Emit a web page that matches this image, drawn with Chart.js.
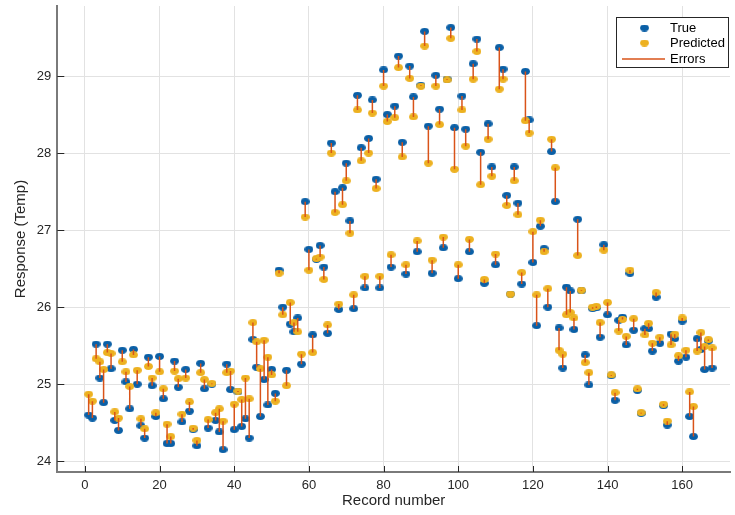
<!DOCTYPE html>
<html>
<head>
<meta charset="utf-8">
<title>True vs Predicted</title>
<script src="https://cdn.jsdelivr.net/npm/chart.js@4.4.0/dist/chart.umd.min.js"></script>
<style>
  html, body { margin: 0; padding: 0; background: #fff; }
  #wrap { width: 735px; height: 515px; }
</style>
</head>
<body>
<div id="wrap"><canvas id="chart" width="735" height="515"></canvas></div>
<script>
// record numbers start at 1, one value per record
const firstRecord = 1;

const trueTemp = [
  24.60, 24.56, 25.52, 25.08, 24.76, 25.52, 25.20, 24.53, 24.40, 25.44,
  25.03, 24.68, 25.45, 25.00, 24.46, 24.30, 25.35, 24.98, 24.58, 25.36,
  24.81, 24.23, 24.23, 25.30, 24.96, 24.51, 25.19, 24.65, 24.41, 24.20,
  25.27, 24.94, 24.43, 25.00, 24.53, 24.38, 24.15, 25.26, 24.93, 24.41,
  24.90, 24.45, 24.55, 24.30, 25.58, 25.22, 24.58, 25.06, 24.73, 25.19,
  24.88, 26.48, 26.00, 25.18, 25.78, 25.68, 25.86, 25.26, 27.37, 26.75,
  25.64, 26.62, 26.80, 26.52, 25.66, 28.13, 27.50, 25.97, 27.55, 27.87,
  27.12, 25.98, 28.75, 28.07, 26.25, 28.19, 28.69, 27.66, 26.25, 29.08,
  28.50, 26.52, 28.61, 29.26, 28.14, 26.43, 29.13, 28.73, 26.72, 28.88,
  29.58, 28.35, 26.44, 29.01, 28.57, 26.77, 28.96, 29.63, 28.33, 26.37,
  28.74, 28.31, 26.72, 29.16, 29.48, 28.01, 26.31, 28.38, 27.82, 26.55,
  29.37, 29.09, 27.45, 26.17, 27.82, 27.35, 26.30, 29.06, 28.43, 26.58,
  25.76, 27.05, 26.76, 26.00, 28.02, 27.37, 25.73, 25.21, 26.26, 26.21,
  25.71, 27.14, 26.21, 25.38, 24.99, 25.98, 25.99, 25.61, 26.81, 25.90,
  25.11, 24.79, 25.83, 25.87, 25.51, 26.44, 25.70, 24.92, 24.62, 25.72,
  25.72, 25.43, 26.13, 25.53, 24.72, 24.47, 25.65, 25.59, 25.30, 25.82,
  25.35, 24.58, 24.32, 25.59, 25.45, 25.19, 25.56, 25.21
];

const predictedTemp = [
  24.87, 24.78, 25.33, 25.29, 25.19, 25.41, 25.40, 24.64, 24.56, 25.29,
  25.16, 24.97, 25.38, 25.18, 24.55, 24.42, 25.23, 25.08, 24.63, 25.16,
  24.94, 24.48, 24.32, 25.17, 25.07, 24.61, 25.08, 24.77, 24.43, 24.27,
  25.15, 25.06, 24.54, 25.01, 24.63, 24.68, 24.52, 25.15, 25.17, 24.74,
  24.91, 24.80, 25.08, 24.81, 25.80, 25.55, 25.20, 25.57, 25.35, 25.12,
  24.78, 26.44, 25.90, 24.98, 26.06, 25.80, 25.68, 25.39, 27.17, 26.48,
  25.41, 26.63, 26.65, 26.36, 25.77, 28.00, 27.23, 26.04, 27.33, 27.64,
  26.96, 26.16, 28.56, 27.90, 26.40, 28.00, 28.52, 27.54, 26.40, 28.87,
  28.41, 26.68, 28.46, 29.11, 27.95, 26.55, 28.97, 28.47, 26.86, 28.87,
  29.39, 27.87, 26.61, 28.87, 28.37, 26.91, 28.95, 29.49, 27.79, 26.55,
  28.56, 28.09, 26.88, 28.96, 29.32, 27.59, 26.36, 28.18, 27.70, 26.69,
  28.83, 28.96, 27.32, 26.17, 27.64, 27.20, 26.45, 28.42, 28.26, 26.98,
  26.16, 27.13, 26.72, 26.24, 28.18, 27.81, 25.44, 25.39, 25.90, 25.93,
  25.86, 26.67, 26.22, 25.28, 25.15, 26.00, 26.01, 25.80, 26.74, 26.06,
  25.12, 24.89, 25.69, 25.84, 25.62, 26.48, 25.85, 24.94, 24.63, 25.64,
  25.79, 25.53, 26.19, 25.61, 24.74, 24.52, 25.51, 25.65, 25.37, 25.86,
  25.44, 24.90, 24.71, 25.43, 25.67, 25.49, 25.58, 25.47
];

const seriesNames = ['True', 'Predicted', 'Errors'];
const xTickValues = [0, 20, 40, 60, 80, 100, 120, 140, 160];
const yTickValues = [24, 25, 26, 27, 28, 29];

const BLUE = '#0a5fa6';
const GOLD = '#edb120';
const RED = '#d95319';
const TEXT = '#262626';
const FONT = "'Liberation Sans', Arial, Helvetica, sans-serif";

// slightly flattened round markers, like the original figure
function ellipseMarker(color) {
    const c = document.createElement('canvas');
    c.width = 9;
    c.height = 7;
    const g = c.getContext('2d');
    g.fillStyle = color;
    g.beginPath();
    g.ellipse(4.5, 3.5, 4.4, 3.4, 0, 0, Math.PI * 2);
    g.fill();
    return c;
}
const blueDot = ellipseMarker(BLUE);
const goldDot = ellipseMarker(GOLD);

const truePoints = trueTemp.map((v, i) => ({ x: firstRecord + i, y: v }));
const predPoints = predictedTemp.map((v, i) => ({ x: firstRecord + i, y: v }));

// one vertical segment per record, broken up by null gaps
const errorPoints = [];
trueTemp.forEach((v, i) => {
    errorPoints.push({ x: firstRecord + i, y: v });
    errorPoints.push({ x: firstRecord + i, y: predictedTemp[i] });
    errorPoints.push({ x: firstRecord + i, y: null });
});

// tick marks pointing into the plot
const innerTicks = {
    id: 'innerTicks',
    afterDraw(chart) {
        const { ctx, chartArea, scales: { x, y } } = chart;
        ctx.save();
        ctx.strokeStyle = TEXT;
        ctx.lineWidth = 1;
        ctx.beginPath();
        x.ticks.forEach(t => {
            const px = Math.round(x.getPixelForValue(t.value)) + 0.5;
            ctx.moveTo(px, chartArea.bottom);
            ctx.lineTo(px, chartArea.bottom - 6);
        });
        y.ticks.forEach(t => {
            const py = Math.round(y.getPixelForValue(t.value)) + 0.5;
            ctx.moveTo(chartArea.left, py);
            ctx.lineTo(chartArea.left + 7, py);
        });
        ctx.stroke();
        ctx.restore();
    }
};

// boxed legend in the top right corner of the axes
const boxLegend = {
    id: 'boxLegend',
    afterDraw(chart) {
        const { ctx, chartArea } = chart;
        const right = chartArea.right - 1;
        const left = right - 113;
        const top = chartArea.top + 11;
        ctx.save();
        ctx.fillStyle = '#fff';
        ctx.fillRect(left, top, 113, 51);
        ctx.strokeStyle = TEXT;
        ctx.lineWidth = 1;
        ctx.strokeRect(left + 0.5, top + 0.5, 112, 50);

        const rows = [top + 11, top + 26, top + 42];
        ctx.drawImage(blueDot, left + 24, rows[0] - 3.5);
        ctx.drawImage(goldDot, left + 24, rows[1] - 3.5);
        ctx.strokeStyle = RED;
        ctx.lineWidth = 1.5;
        ctx.beginPath();
        ctx.moveTo(left + 6, rows[2]);
        ctx.lineTo(left + 49, rows[2]);
        ctx.stroke();

        ctx.fillStyle = '#000';
        ctx.font = '13px ' + FONT;
        ctx.textBaseline = 'middle';
        seriesNames.forEach((name, i) => ctx.fillText(name, left + 54, rows[i]));
        ctx.restore();
    }
};

new Chart(document.getElementById('chart'), {
    type: 'scatter',
    data: {
        datasets: [
            {
                label: seriesNames[0],
                data: truePoints,
                pointStyle: blueDot,
                backgroundColor: BLUE,
                borderColor: BLUE,
                order: 2
            },
            {
                label: seriesNames[1],
                data: predPoints,
                pointStyle: goldDot,
                backgroundColor: GOLD,
                borderColor: GOLD,
                order: 1
            },
            {
                label: seriesNames[2],
                data: errorPoints,
                showLine: true,
                spanGaps: false,
                pointRadius: 0,
                borderColor: RED,
                borderWidth: 1.5,
                order: 0
            }
        ]
    },
    options: {
        responsive: false,
        animation: false,
        devicePixelRatio: 1,
        layout: { padding: { top: 6, right: 2, left: 12, bottom: 5 } },
        plugins: {
            legend: { display: false },
            tooltip: { enabled: false }
        },
        scales: {
            x: {
                type: 'linear',
                min: -7.4,
                max: 172.8,
                afterBuildTicks: s => { s.ticks = xTickValues.map(v => ({ value: v })); },
                afterFit: s => {
                    s.height = 38;
                    s.paddingLeft = 0;
                    s.paddingRight = 0;
                },
                ticks: {
                    padding: 6,
                    color: TEXT,
                    maxRotation: 0,
                    autoSkip: false,
                    font: { family: FONT, size: 13 }
                },
                grid: { color: '#e2e2e2', lineWidth: 1, drawTicks: false },
                border: { color: '#7a7a7a', width: 2 },
                title: {
                    display: true,
                    text: 'Record number',
                    color: TEXT,
                    padding: 0,
                    font: { family: FONT, size: 15 }
                }
            },
            y: {
                type: 'linear',
                min: 23.86,
                max: 29.91,
                afterBuildTicks: s => { s.ticks = yTickValues.map(v => ({ value: v })); },
                afterFit: s => {
                    s.width = 45.3;
                    s.paddingTop = 0;
                    s.paddingBottom = 0;
                },
                ticks: {
                    padding: 6,
                    color: TEXT,
                    autoSkip: false,
                    font: { family: FONT, size: 13 }
                },
                grid: { color: '#e2e2e2', lineWidth: 1, drawTicks: false },
                border: { color: '#7a7a7a', width: 2 },
                title: {
                    display: true,
                    text: 'Response (Temp)',
                    color: TEXT,
                    padding: 0,
                    font: { family: FONT, size: 15 }
                }
            }
        }
    },
    plugins: [innerTicks, boxLegend]
});
</script>
</body>
</html>
